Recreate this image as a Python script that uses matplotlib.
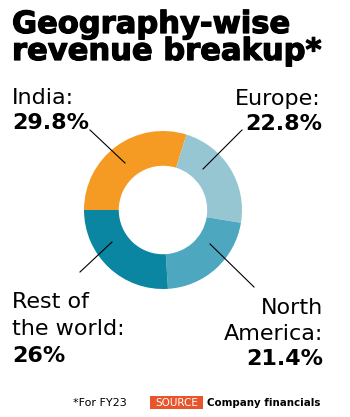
import matplotlib
matplotlib.use("Agg")
import matplotlib.pyplot as plt
from matplotlib.patches import Rectangle
import matplotlib.patheffects as pe

# data
regions = ["India", "Europe", "North America", "Rest of the world"]
shares = [29.8, 22.8, 21.4, 26]
colours = ["#F59A23", "#97C6D3", "#4DA7BE", "#0A86A2"]

# label text (line-broken as in the graphic)
label_names = ["India:", "Europe:", "North\nAmerica:", "Rest of\nthe world:"]

W, H = 350, 417
fig = plt.figure(figsize=(W / 100, H / 100), dpi=100)
fig.patch.set_facecolor("white")

# overlay axes in pixel coordinates (y pointing down)
ov = fig.add_axes([0, 0, 1, 1])
ov.set_xlim(0, W)
ov.set_ylim(H, 0)
ov.axis("off")

# donut axes
cx, cy, r = 163, 210, 79
pie_ax = fig.add_axes([(cx - r) / W, (H - cy - r) / H, 2 * r / W, 2 * r / H])
pie_ax.pie(shares, colors=colours, startangle=180, counterclock=False,
           radius=1, wedgeprops=dict(width=0.44, edgecolor="none"))
pie_ax.set_xlim(-1, 1)
pie_ax.set_ylim(-1, 1)
pie_ax.set_aspect("equal")
pie_ax.axis("off")
ov.set_zorder(2)

fam = "DejaVu Sans"
heavy = [pe.withStroke(linewidth=0.9, foreground="black")]

# title
ov.text(12, 33, "Geography-wise", fontsize=22, fontweight="bold", family=fam,
        va="baseline", ha="left", color="black", path_effects=heavy)
ov.text(12, 60, "revenue breakup*", fontsize=22, fontweight="bold", family=fam,
        va="baseline", ha="left", color="black", path_effects=heavy)

# leader lines
leaders = [((90, 130), (125, 163)),
           ((242, 130), (203, 169)),
           ((254, 287), (210, 244)),
           ((80, 272), (112, 242))]
for (x0, y0), (x1, y1) in leaders:
    ov.plot([x0, x1], [y0, y1], color="black", lw=0.8)

lab_size = 16
# India
ov.text(12, 104, label_names[0], fontsize=lab_size, family=fam, va="baseline", ha="left")
ov.text(12, 129, f"{shares[0]}%", fontsize=lab_size, fontweight="bold", family=fam,
        va="baseline", ha="left")
# Europe
ov.text(321, 105, label_names[1], fontsize=lab_size, family=fam, va="baseline", ha="right")
ov.text(322, 130, f"{shares[1]}%", fontsize=lab_size, fontweight="bold", family=fam,
        va="baseline", ha="right")
# North America
for i, line in enumerate(label_names[2].split("\n")):
    ov.text(323, 314 + 26 * i, line, fontsize=lab_size, family=fam, va="baseline", ha="right")
ov.text(323, 365, f"{shares[2]}%", fontsize=lab_size, fontweight="bold", family=fam,
        va="baseline", ha="right")
# Rest of the world
for i, line in enumerate(label_names[3].split("\n")):
    ov.text(12, 308 + 27 * i, line, fontsize=lab_size, family=fam, va="baseline", ha="left")
ov.text(12, 362, f"{shares[3]:g}%", fontsize=lab_size, fontweight="bold", family=fam,
        va="baseline", ha="left")

# footer
ov.text(73, 406, "*For FY23", fontsize=8, family=fam, va="baseline", ha="left")
ov.add_patch(Rectangle((150, 396), 53, 13, facecolor="#E8542B", edgecolor="none"))
ov.text(176.5, 406, "SOURCE", fontsize=7.5, family=fam, color="white",
        va="baseline", ha="center")
ov.text(207, 406, "Company financials", fontsize=7.4, family=fam, fontweight="bold",
        va="baseline", ha="left")

fig.savefig("out.png", dpi=100, facecolor="white")
